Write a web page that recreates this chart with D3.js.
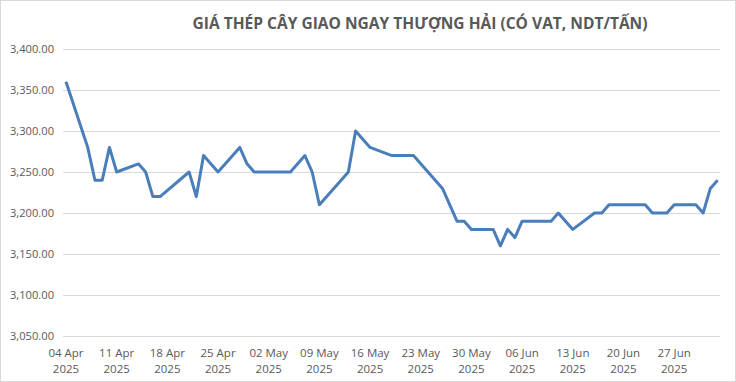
<!DOCTYPE html>
<html lang="vi">
<head>
<meta charset="UTF-8">
<title>gia thep</title>
<script src="https://cdn.jsdelivr.net/npm/d3@7"></script>
<style>
    body { margin:0; background:#fff; }
    .grid line { stroke:#d9d9d9; stroke-width:1; }
    .ylab, .xlab { fill:#595959; font-family:"Open Sans",sans-serif; font-size:11.5px; }
    .title { fill:#595959; font-family:"Open Sans",sans-serif; font-size:16.5px; font-weight:bold; }
</style>
</head>
<body>
<div id="chart"></div>
<script>
// ngay giao dich va gia (NDT/tan)
var dates = ["2025-04-04","2025-04-07","2025-04-08","2025-04-09","2025-04-10","2025-04-11",
    "2025-04-14","2025-04-15","2025-04-16","2025-04-17","2025-04-21","2025-04-22","2025-04-23",
    "2025-04-25","2025-04-28","2025-04-29","2025-04-30","2025-05-05","2025-05-06","2025-05-07",
    "2025-05-08","2025-05-09","2025-05-12","2025-05-13","2025-05-14","2025-05-16","2025-05-19",
    "2025-05-22","2025-05-26","2025-05-28","2025-05-29","2025-05-30","2025-06-02","2025-06-03",
    "2025-06-04","2025-06-05","2025-06-06","2025-06-09","2025-06-10","2025-06-11","2025-06-12",
    "2025-06-13","2025-06-16","2025-06-17","2025-06-18","2025-06-19","2025-06-20","2025-06-23",
    "2025-06-24","2025-06-25","2025-06-26","2025-06-27","2025-06-30","2025-07-01","2025-07-02",
    "2025-07-03"];
var prices = [3360,3280,3240,3240,3280,3250,
    3260,3250,3220,3220,3250,3220,3270,
    3250,3280,3260,3250,3250,3260,3270,
    3250,3210,3240,3250,3300,3280,3270,
    3270,3230,3190,3190,3180,3180,3160,
    3180,3170,3190,3190,3190,3200,3190,
    3180,3200,3200,3210,3210,3210,3210,
    3200,3200,3200,3210,3210,3200,3230,
    3240];
var yTicks = [3050,3100,3150,3200,3250,3300,3350,3400];
var xTickDates = ["2025-04-04","2025-04-11","2025-04-18","2025-04-25","2025-05-02","2025-05-09",
    "2025-05-16","2025-05-23","2025-05-30","2025-06-06","2025-06-13","2025-06-20","2025-06-27"];
var title = "GIÁ THÉP CÂY GIAO NGAY THƯỢNG HẢI (CÓ VAT, NDT/TẤN)";

var W = 736, H = 382;
var parse = d3.utcParse("%Y-%m-%d");
var data = dates.map(function(d, i){ return {date: parse(d), v: prices[i]}; });

var svg = d3.select("#chart").append("svg")
    .attr("width", W).attr("height", H);

// vien khung bieu do
svg.append("rect")
    .attr("x", 0.5).attr("y", 0.5)
    .attr("width", W - 1).attr("height", H - 1)
    .attr("fill", "#fff").attr("stroke", "#d9d9d9");

var x = d3.scaleUtc()
    .domain([parse("2025-04-04"), parse("2025-07-03")])
    .range([66, 717.6]);
var y = d3.scaleLinear()
    .domain([3050, 3400])
    .range([336, 49]);

var gridLeft = 63, gridRight = 720;

// luoi ngang
svg.append("g").attr("class", "grid")
    .selectAll("line")
    .data(yTicks)
    .join("line")
    .attr("x1", gridLeft).attr("x2", gridRight)
    .attr("y1", function(d){ return Math.round(y(d)) + 0.5; })
    .attr("y2", function(d){ return Math.round(y(d)) + 0.5; });

// nhan truc y
svg.append("g")
    .selectAll("text")
    .data(yTicks)
    .join("text")
    .attr("class", "ylab")
    .attr("x", 54)
    .attr("y", function(d){ return y(d) + 4; })
    .attr("text-anchor", "end")
    .attr("textLength", 44)
    .attr("lengthAdjust", "spacingAndGlyphs")
    .text(function(d){ return d3.format(",.2f")(d); });

// nhan truc x (2 dong)
var fmtDay = d3.utcFormat("%d %b"), fmtYear = d3.utcFormat("%Y");
var xl = svg.append("g")
    .selectAll("text")
    .data(xTickDates.map(parse))
    .join("text")
    .attr("class", "xlab")
    .attr("text-anchor", "middle")
    .attr("x", function(d){ return x(d); })
    .attr("y", 357);
xl.append("tspan").text(function(d){ return fmtDay(d); });
xl.append("tspan")
    .attr("x", function(d){ return x(d); })
    .attr("dy", 16)
    .text(function(d){ return fmtYear(d); });

// duong gia
var line = d3.line()
    .x(function(d){ return x(d.date); })
    .y(function(d){ return y(d.v); });

svg.append("path")
    .datum(data)
    .attr("d", line)
    .attr("fill", "none")
    .attr("stroke", "#4a7ebb")
    .attr("stroke-width", 3)
    .attr("stroke-linejoin", "round");

// tieu de
svg.append("text")
    .attr("class", "title")
    .attr("x", 420)
    .attr("y", 29)
    .attr("text-anchor", "middle")
    .attr("textLength", 455)
    .attr("lengthAdjust", "spacingAndGlyphs")
    .text(title);
</script>
</body>
</html>
